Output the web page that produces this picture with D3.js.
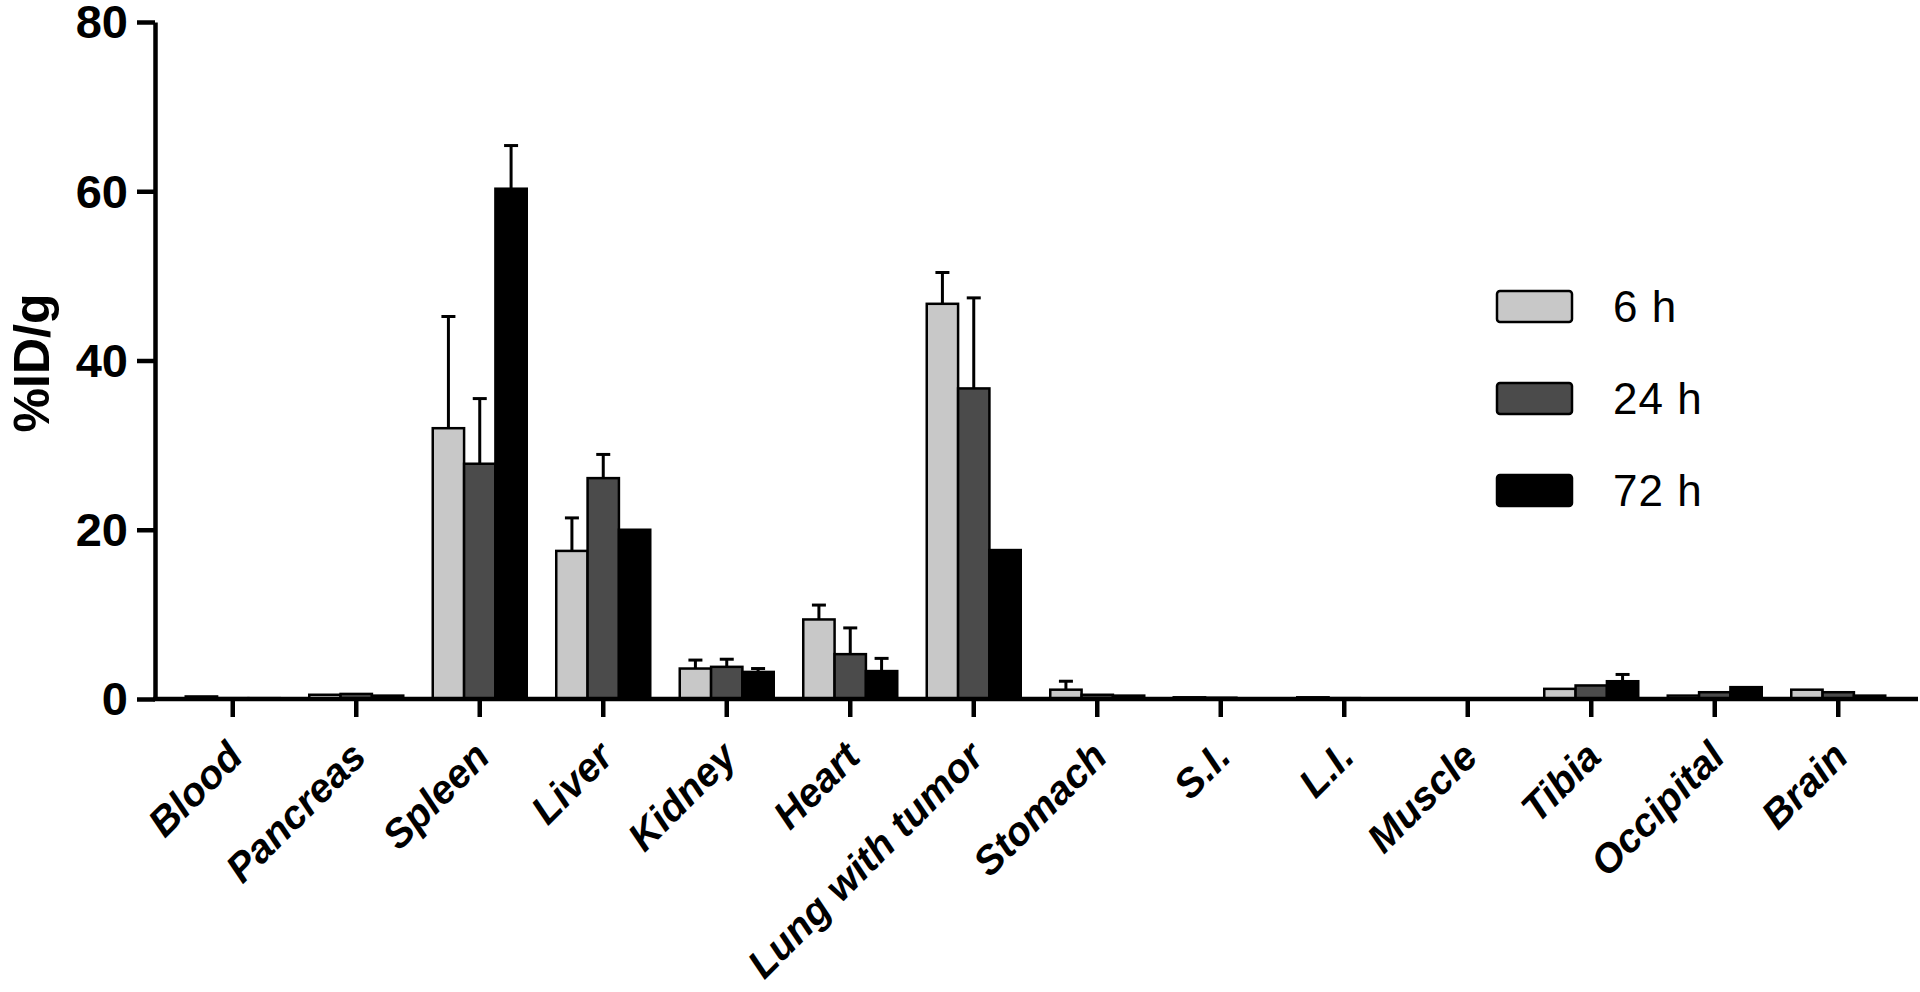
<!DOCTYPE html>
<html>
<head>
<meta charset="utf-8">
<script src="https://cdn.jsdelivr.net/npm/d3@7"></script>
<style>
  body { margin: 0; background: #fff; }
  svg { display: block; font-family: "Liberation Sans", Arial, sans-serif; }
</style>
</head>
<body>
<svg id="chart"></svg>
<script>
// organs on the x axis
const categories = ["Blood", "Pancreas", "Spleen", "Liver", "Kidney", "Heart", "Lung with tumor",
  "Stomach", "S.I.", "L.I.", "Muscle", "Tibia", "Occipital", "Brain"];
const series = ["6 h", "24 h", "72 h"];

// mean %ID/g per organ
const mean6h  = [0.3, 0.5, 32.0, 17.5, 3.6, 9.4, 46.7, 1.1, 0.2, 0.2, 0.05, 1.2, 0.4, 1.1];
const mean24h = [0.1, 0.6, 27.8, 26.1, 3.8, 5.3, 36.7, 0.5, 0.15, 0.1, 0.05, 1.6, 0.8, 0.8];
const mean72h = [0.1, 0.4, 60.3, 20.0, 3.2, 3.3, 17.6, 0.4, 0.05, 0.05, 0.03, 2.1, 1.4, 0.4];

// upper error (SD)
const sd6h  = [0.1, 0.1, 13.2, 3.9, 1.0, 1.7, 3.7, 1.0, 0.05, 0.05, 0, 0.2, 0.1, 0.3];
const sd24h = [0, 0.1, 7.7, 2.8, 0.9, 3.1, 10.7, 0.1, 0.05, 0, 0, 0.2, 0.3, 0.3];
const sd72h = [0, 0.1, 5.1, 0.2, 0.4, 1.5, 0.1, 0.1, 0, 0, 0, 0.8, 0.2, 0.1];

const yTicks = [0, 20, 40, 60, 80];
const colors = ["#c8c8c8", "#4b4b4b", "#000000"];

const means = [mean6h, mean24h, mean72h];
const sds = [sd6h, sd24h, sd72h];

const width = 1920, height = 992;
const svg = d3.select("#chart").attr("width", width).attr("height", height);

const axisX0 = 155, axisX1 = 1918;
const y = d3.scaleLinear().domain([0, 80]).range([699, 22]);
const x = d3.scaleBand().domain(categories).range([171, 1900]);
const xs = d3.scaleBand().domain(series).range([-47, 47]);
const color = d3.scaleOrdinal().domain(series).range(colors);

// flat list of bars
const bars = [];
series.forEach((s, si) => {
  categories.forEach((c, ci) => {
    bars.push({ cat: c, ser: s, value: means[si][ci], sd: sds[si][ci] });
  });
});

const barX = d => x(d.cat) + x.bandwidth() / 2 + xs(d.ser);

// error bars (upper only)
const err = svg.append("g").selectAll("g")
  .data(bars.filter(d => d.sd > 0.3))
  .enter().append("g");
err.append("line")
  .attr("x1", d => barX(d) + xs.bandwidth() / 2)
  .attr("x2", d => barX(d) + xs.bandwidth() / 2)
  .attr("y1", d => y(d.value))
  .attr("y2", d => y(d.value + d.sd))
  .attr("stroke", "#000").attr("stroke-width", 3);
err.append("line")
  .attr("x1", d => barX(d) + xs.bandwidth() / 2 - 7)
  .attr("x2", d => barX(d) + xs.bandwidth() / 2 + 7)
  .attr("y1", d => y(d.value + d.sd))
  .attr("y2", d => y(d.value + d.sd))
  .attr("stroke", "#000").attr("stroke-width", 3);

svg.append("g").selectAll("rect")
  .data(bars)
  .enter().append("rect")
  .attr("x", d => barX(d))
  .attr("y", d => y(d.value))
  .attr("width", xs.bandwidth())
  .attr("height", d => y(0) - y(d.value))
  .attr("fill", d => color(d.ser))
  .attr("stroke", "#000")
  .attr("stroke-width", 2.5);

// y axis
const yAxis = svg.append("g")
  .attr("transform", `translate(${axisX0},0)`)
  .call(d3.axisLeft(y).tickValues(yTicks).tickSize(18).tickSizeOuter(0).tickPadding(9));
yAxis.select(".domain").attr("stroke-width", 4.5);
yAxis.selectAll(".tick line").attr("stroke-width", 4.5);
yAxis.selectAll(".tick text")
  .attr("font-size", 47).attr("font-weight", "bold").attr("fill", "#000")
  .attr("dy", "0.34em")
  .attr("font-family", "Liberation Sans, Arial, sans-serif");

// x axis
const xAxis = svg.append("g")
  .attr("transform", `translate(0,${y(0)})`)
  .call(d3.axisBottom(x).tickSize(18).tickSizeOuter(0));
xAxis.select(".domain").remove();
xAxis.append("line")
  .attr("x1", axisX0 - 2).attr("x2", axisX1)
  .attr("stroke", "#000").attr("stroke-width", 4.5);
xAxis.selectAll(".tick line").attr("stroke-width", 4.5);
xAxis.selectAll(".tick text")
  .attr("y", null).attr("dy", null)
  .attr("text-anchor", "end")
  .attr("transform", "translate(12,60) rotate(-45)")
  .attr("font-size", 40).attr("font-weight", "bold").attr("font-style", "italic")
  .attr("fill", "#000")
  .attr("font-family", "Liberation Sans, Arial, sans-serif");

// y title
svg.append("text")
  .attr("transform", "translate(49,363) rotate(-90)")
  .attr("text-anchor", "middle")
  .attr("font-size", 50).attr("font-weight", "bold")
  .text("%ID/g");

// legend
const legend = svg.append("g").selectAll("g")
  .data(series)
  .enter().append("g")
  .attr("transform", (d, i) => `translate(1497,${291 + i * 92})`);
legend.append("rect")
  .attr("width", 75).attr("height", 31).attr("rx", 3)
  .attr("fill", d => color(d))
  .attr("stroke", "#000").attr("stroke-width", 2.5);
legend.append("text")
  .attr("x", 116).attr("y", 31)
  .attr("font-size", 44)
  .attr("letter-spacing", 1)
  .text(d => d);
</script>
</body>
</html>
